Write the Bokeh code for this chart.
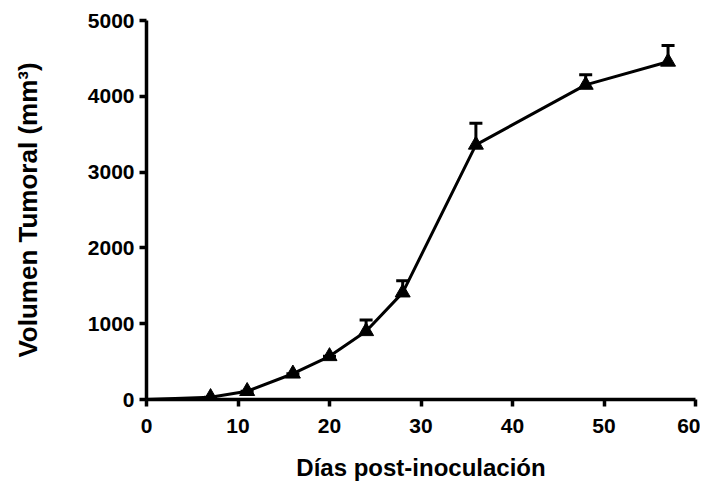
from bokeh.plotting import figure
from bokeh.models import ColumnDataSource, Whisker, TeeHead, Range1d, FixedTicker, CDSView, IndexFilter
from bokeh.embed import file_html
from bokeh.resources import INLINE

days = [0, 7, 11, 16, 20, 24, 28, 36, 48, 57]
volume = [0, 30, 110, 340, 570, 900, 1410, 3360, 4150, 4455]
sem = [0, 0, 0, 0, 0, 150, 155, 285, 135, 215]
x_ticks = [0, 10, 20, 30, 40, 50, 60]
y_ticks = [0, 1000, 2000, 3000, 4000, 5000]

src = ColumnDataSource(dict(x=days, y=volume, top=[v + e for v, e in zip(volume, sem)]))

p = figure(width=700, height=483, output_backend="svg", toolbar_location=None,
           x_range=Range1d(0, 60), y_range=Range1d(0, 5000),
           min_border_left=146, min_border_right=5, min_border_top=20, min_border_bottom=83)
p.outline_line_color = None
p.xgrid.grid_line_color = None
p.ygrid.grid_line_color = None
p.background_fill_color = "white"

p.add_layout(Whisker(source=src, base="x", upper="top", lower="y",
                     upper_head=TeeHead(size=13, line_width=3, line_color="black"),
                     lower_head=None, line_width=3, line_color="black"))
p.line("x", "y", source=src, line_width=3, line_color="black")
p.scatter("x", "y", source=src, view=CDSView(filter=IndexFilter(list(range(1, len(days))))),
          marker="triangle", size=15, fill_color="black", line_color="black")

for ax in (p.xaxis[0], p.yaxis[0]):
    ax.axis_line_width = 3.5
    ax.major_tick_line_width = 3.5
    ax.major_tick_out = 7
    ax.major_tick_in = 0
    ax.minor_tick_line_color = None
    ax.major_label_text_font = "Liberation Sans"
    ax.major_label_text_font_style = "bold"
    ax.major_label_text_font_size = "21px"
    ax.major_label_text_color = "black"
    ax.axis_label_text_font = "Liberation Sans"
    ax.axis_label_text_font_style = "bold"
    ax.axis_label_text_color = "black"

p.xaxis.axis_label_text_font_size = "24px"
p.yaxis.axis_label_text_font_size = "26px"
p.xaxis.ticker = FixedTicker(ticks=x_ticks)
p.yaxis.ticker = FixedTicker(ticks=y_ticks)
p.xaxis.axis_label = "Días post-inoculación"
p.yaxis.axis_label = "Volumen Tumoral (mm³)"
p.xaxis.major_label_standoff = 12
p.yaxis.major_label_standoff = 5
p.xaxis.axis_label_standoff = 18
p.yaxis.axis_label_standoff = 42

open("out.html", "w").write(file_html(p, INLINE))
